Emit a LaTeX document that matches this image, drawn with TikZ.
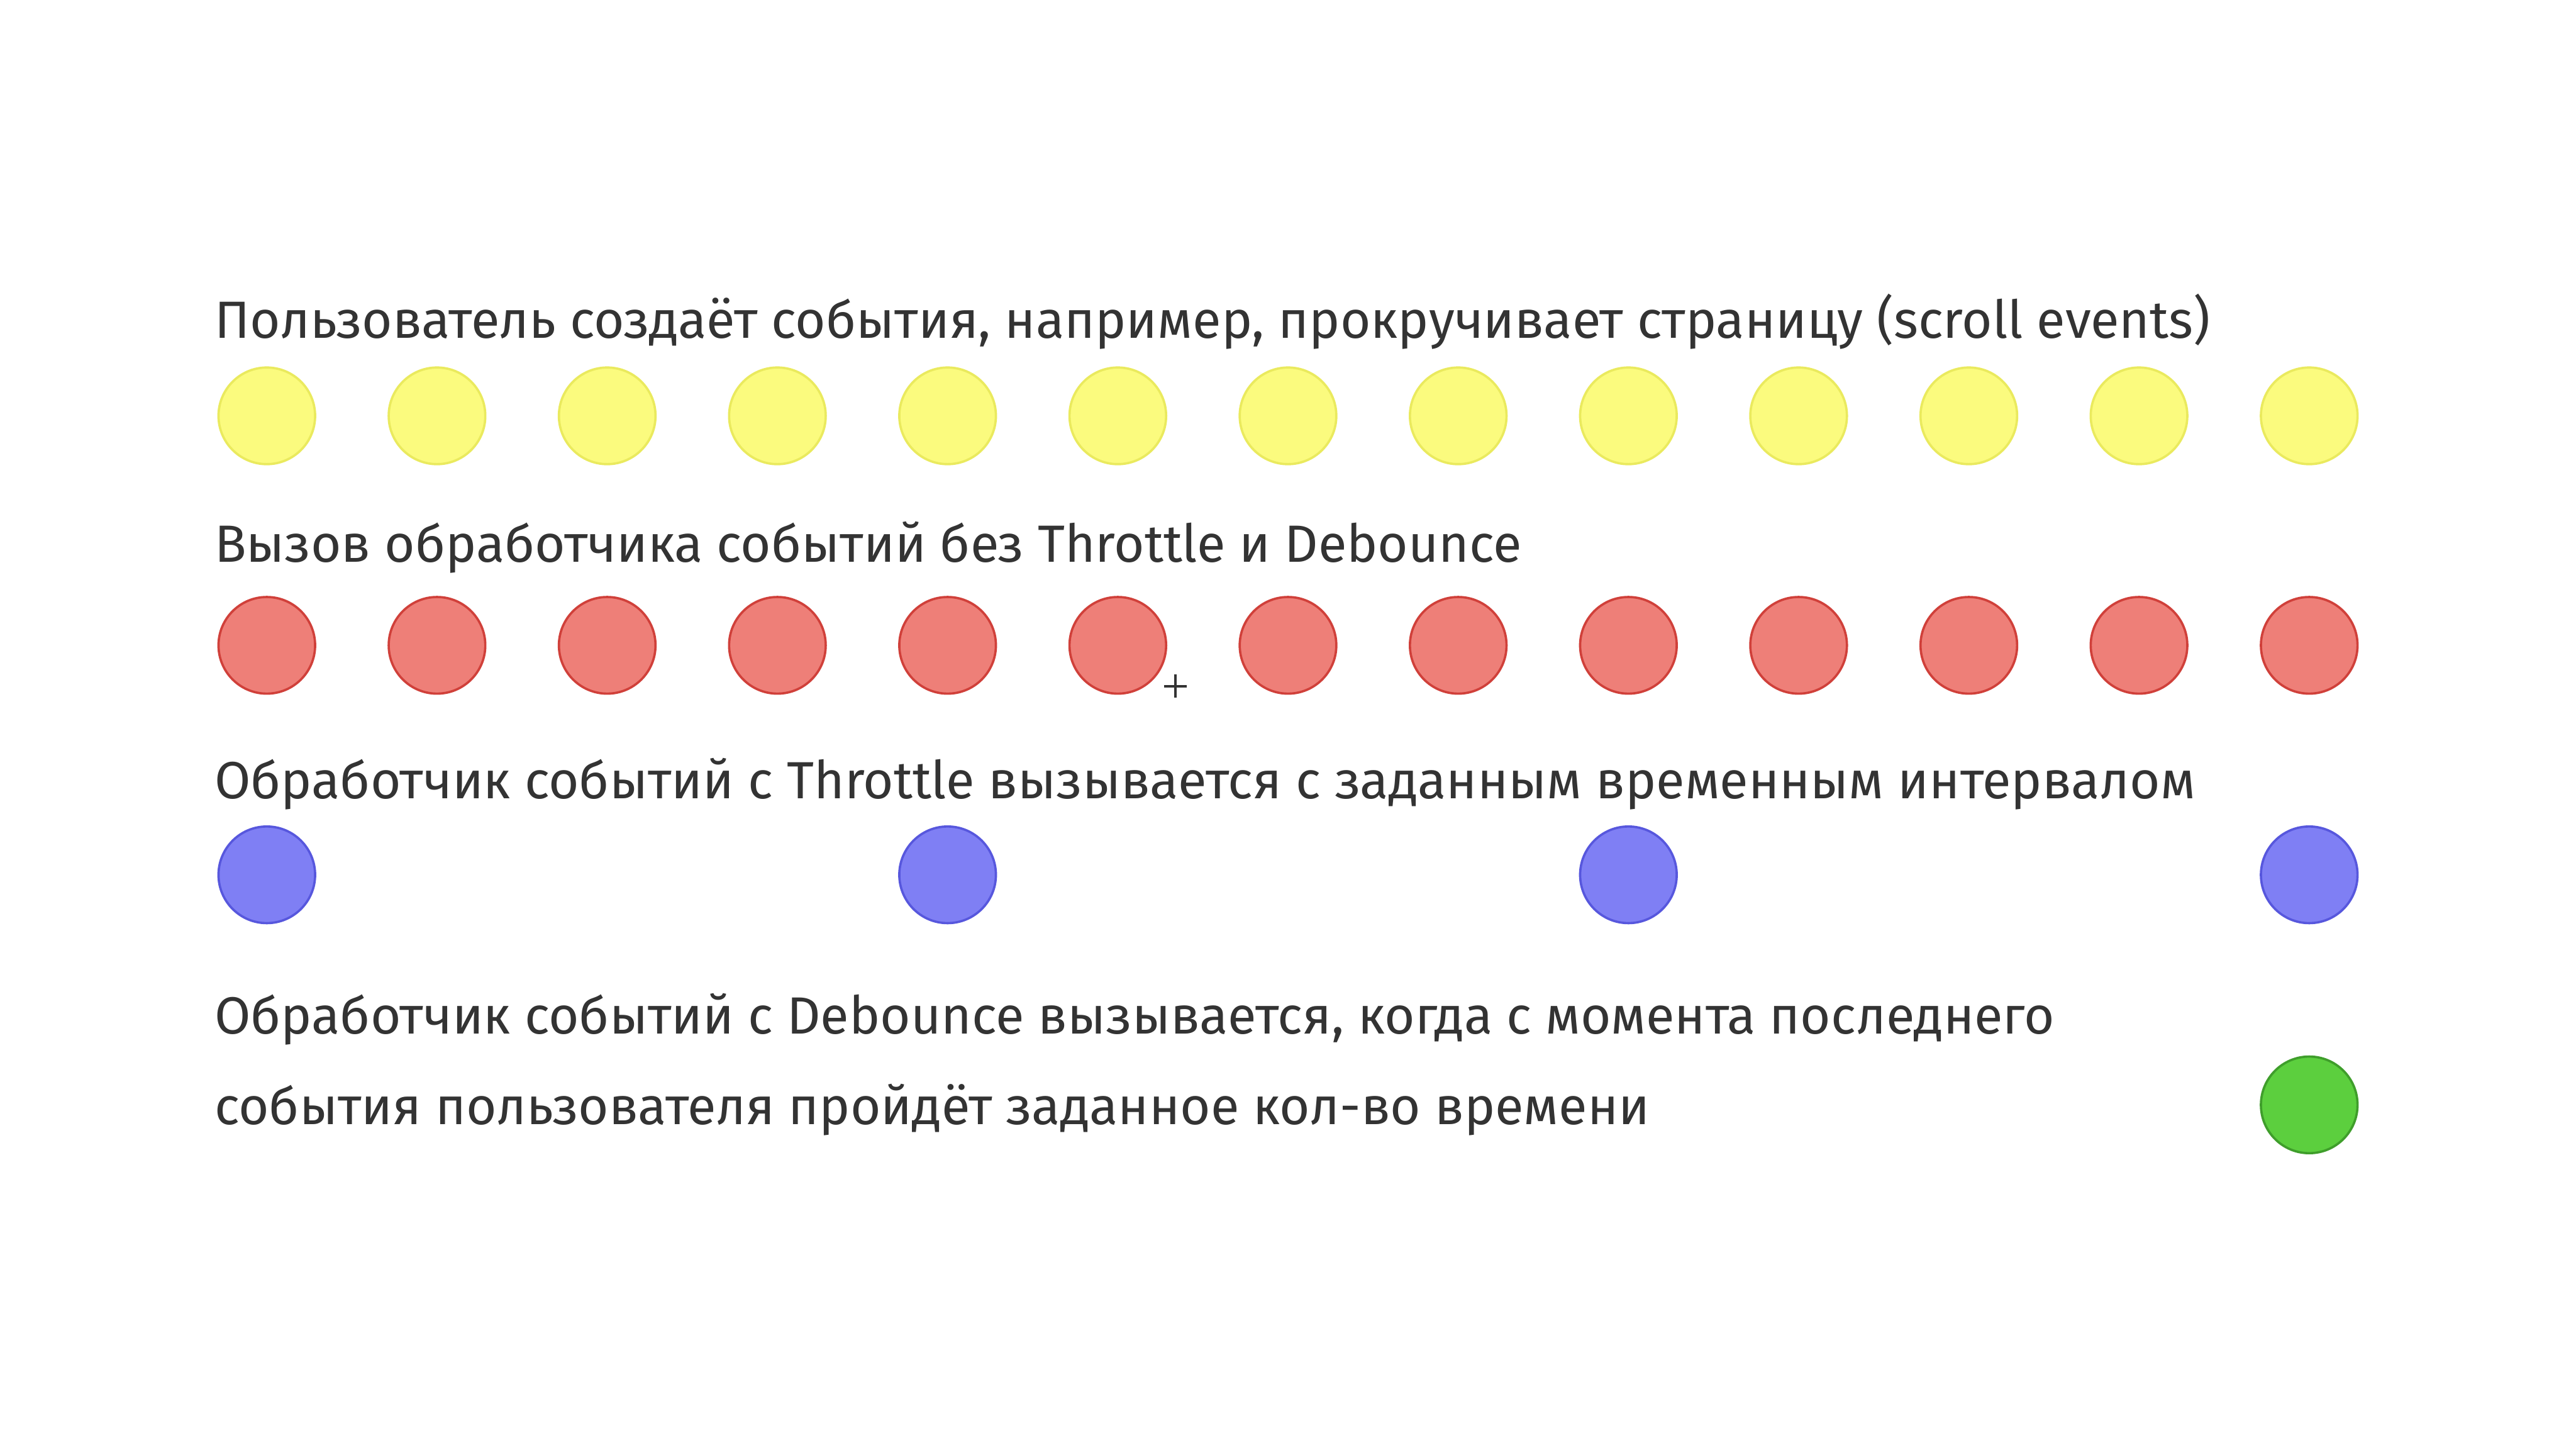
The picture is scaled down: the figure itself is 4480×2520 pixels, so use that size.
\documentclass[tikz,border=0pt]{standalone}
\usepackage{fontspec}
\setmainfont{Fira Sans}
\definecolor{txt}{HTML}{333333}
\definecolor{yfill}{HTML}{FBFB7E}
\definecolor{ydraw}{HTML}{EAEA5E}
\definecolor{rfill}{HTML}{EE7F78}
\definecolor{rdraw}{HTML}{D0403A}
\definecolor{bfill}{HTML}{7F7FF4}
\definecolor{bdraw}{HTML}{5757DD}
\definecolor{gfill}{HTML}{5CCF3E}
\definecolor{gdraw}{HTML}{3F9E2B}
\begin{document}
\begin{tikzpicture}[x=1pt,y=-1pt,
  lbl/.style={anchor=base west, inner sep=0pt, text=txt, font=\fontsize{91}{110}\selectfont},
  dot/.style={circle, minimum size=168pt, inner sep=0pt, line width=4pt},
  ydot/.style={dot, fill=yfill, draw=ydraw},
  rdot/.style={dot, fill=rfill, draw=rdraw},
  bdot/.style={dot, fill=bfill, draw=bdraw},
  gdot/.style={dot, fill=gfill, draw=gdraw}]
\useasboundingbox[fill=white] (0,0) rectangle (4480,2520);
\node[lbl] (t1) at (373,588) {Пользователь создаёт события, например, прокручивает страницу (scroll events)};
\node[lbl] (t2) at (373,977) {Вызов обработчика событий без Throttle и Debounce};
\node[lbl] (t3) at (373,1389) {Обработчик событий с Throttle вызывается с заданным временным интервалом};
\node[lbl] (t4) at (373,1798) {Обработчик событий с Debounce вызывается, когда с момента последнего};
\node[lbl] (t5) at (373,1955) {события пользователя пройдёт заданное кол-во времени};
\foreach \i in {0,...,12} {
  \node[ydot] (y\i) at ({464+296*\i},723) {};
  \node[rdot] (r\i) at ({464+296*\i},1122) {};
}
\foreach \i in {0,4,8,12} {
  \node[bdot] (b\i) at ({464+296*\i},1521) {};
}
\node[gdot] (g12) at (4016,1921) {};
\draw[txt, line width=4pt] (2024,1193) -- (2064,1193) (2044,1173) -- (2044,1213);
\end{tikzpicture}
\end{document}
